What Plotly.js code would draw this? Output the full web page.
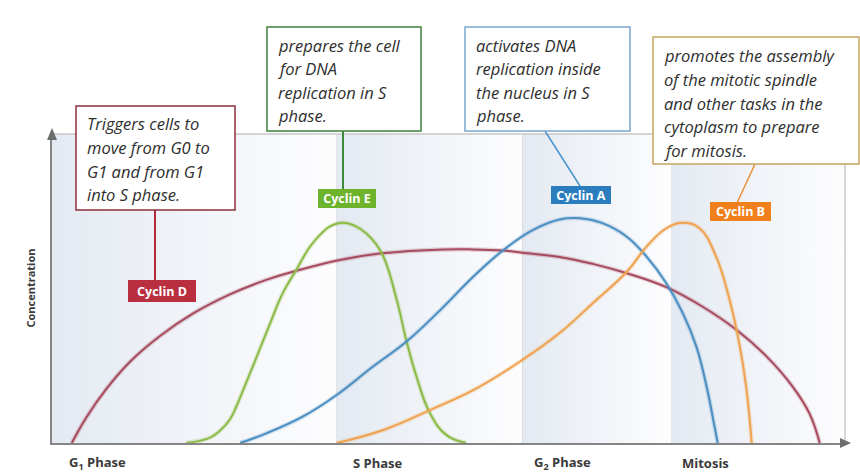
<!DOCTYPE html>
<html>
<head>
<meta charset="utf-8">
<script src="https://cdn.plot.ly/plotly-3.0.1.min.js"></script>
<style>html,body{margin:0;padding:0;background:#fff;}#chart{width:860px;height:473px;}</style>
</head>
<body>
<div id="chart"></div>
<script>
// ---- data (arbitrary time units 0..100, concentration 0..100) ----
const phaseBounds = [0, 36.0, 59.5, 78.3, 100.3];
const phaseLabels = ['G<sub>1</sub> Phase', 'S Phase', 'G<sub>2</sub> Phase', 'Mitosis'];
const phaseLabelX = [0.0574, 0.4105, 0.6438, 0.8247];

const cyclinDx = [2.5,4.4,6.9,9.9,13.7,17.8,22.5,27.1,30.9,36.4,41.7,49.5,53.3,57.1,59.5,64.2,68.4,72.7,77.7,82.3,86.6,90.4,93.7,95.8,97.1];
const cyclinDy = [0,8.7,18.0,27.0,35.5,42.8,49.2,54.0,57.0,60.6,62.8,64.1,64.1,63.7,63.0,61.6,59.3,56.2,51.6,45.1,37.4,28.6,18.6,9.8,0];

const cyclinEx = [17.0,20.0,21.2,22.5,23.3,24.1,25.9,27.6,29.2,30.9,32.6,33.9,35.1,36.8,38.3,39.8,41.7,43.6,44.8,46.1,47.8,49.9,52.4];
const cyclinEy = [0,1.8,4.0,7.8,12.0,17.0,28.6,39.7,49.7,57.3,64.9,68.9,71.6,72.9,71.9,69.3,62.9,47.4,34.1,22.0,9.9,2.6,0];

const cyclinAx = [23.8,27.1,31.7,36.0,40.6,44.8,49.1,53.3,57.1,60.8,64.2,66.8,69.7,72.7,75.2,77.7,79.8,81.5,82.8,83.8,84.2];
const cyclinAy = [0,3.2,8.7,15.9,25.3,33.5,44.0,55.1,63.9,70.5,74.0,74.4,72.7,68.3,61.7,52.9,42.9,31.9,18.6,5.4,0];

const cyclinBx = [36.0,41.9,47.8,53.7,59.5,64.2,68.4,72.7,75.2,77.7,79.8,81.9,84.0,85.7,87.0,87.8,88.5];
const cyclinBy = [0,4.3,10.9,18.1,27.5,36.4,46.3,56.7,65.0,71.1,72.9,71.1,61.7,47.4,31.9,18.6,0];

const cyclinNames = ['Cyclin D', 'Cyclin E', 'Cyclin A', 'Cyclin B'];
const cyclinRoles = [
  ['Triggers cells to', 'move from G0 to', 'G1 and from G1', 'into S phase.'],
  ['prepares the cell', 'for DNA', 'replication in S', 'phase.'],
  ['activates DNA', 'replication inside', 'the nucleus in S', 'phase.'],
  ['promotes the assembly', 'of the mitotic spindle', 'and other tasks in the', 'cytoplasm to prepare', 'for mitosis.']
];

// ---- styling / layout helpers ----
const YTOP = 102.3;
const W = 793, H = 309, L = 52, B = 443;
const px = v => (v - L) / W;       // pixel x -> paper
const py = v => (B - v) / H;       // pixel y -> paper

const lineColors = ['#a64a5e', '#8cbb48', '#4a8ec2', '#efa24f'];
const tagColors  = ['#b92f40', '#6db42c', '#2b7dbd', '#ef801b'];
const boxBorders = ['#8e2e3a', '#3e7e3e', '#7aa6cc', '#c6a463'];

const traces = [];
for (let i = 0; i < phaseBounds.length - 1; i++) {
  const a = phaseBounds[i], b = phaseBounds[i + 1];
  traces.push({
    x: [a, b, b, a, a], y: [0, 0, YTOP, YTOP, 0],
    mode: 'lines', line: {width: 0}, fill: 'toself',
    fillgradient: {type: 'horizontal', colorscale: [[0, '#e4eaf2'], [1, '#fdfdfe']]},
    hoverinfo: 'skip', showlegend: false
  });
}
const series = [[cyclinDx, cyclinDy], [cyclinEx, cyclinEy], [cyclinAx, cyclinAy], [cyclinBx, cyclinBy]];
series.forEach((s, i) => {
  traces.push({x: s[0], y: s[1], mode: 'lines', line: {color: lineColors[i], width: 4.5, shape: 'spline', smoothing: 1.2}, opacity: 0.25, hoverinfo: 'skip', showlegend: false});
  traces.push({x: s[0], y: s[1], mode: 'lines', name: cyclinNames[i], line: {color: lineColors[i], width: 2, shape: 'spline', smoothing: 1.2}, showlegend: false});
});

const shapes = [];
// phase dividers
for (let i = 1; i < phaseBounds.length - 1; i++) {
  shapes.push({type: 'line', xref: 'x', yref: 'paper', x0: phaseBounds[i], x1: phaseBounds[i], y0: 0, y1: 1, line: {color: '#a3a3a3', width: 1}, layer: 'below'});
}
// top & right border
shapes.push({type: 'line', xref: 'paper', yref: 'paper', x0: 0, x1: 1, y0: 1, y1: 1, line: {color: '#c9c9c9', width: 1.5}});
shapes.push({type: 'line', xref: 'paper', yref: 'paper', x0: 1, x1: 1, y0: 0, y1: 1, line: {color: '#c9c9c9', width: 1.5}});
// arrow heads
shapes.push({type: 'path', xref: 'paper', yref: 'paper', path: `M ${px(840)} ${py(438)} L ${px(851)} ${py(443)} L ${px(840)} ${py(448)} Z`, fillcolor: '#6d6d6d', line: {width: 0}});
shapes.push({type: 'path', xref: 'paper', yref: 'paper', path: `M ${px(47)} ${py(140)} L ${px(52)} ${py(128)} L ${px(57)} ${py(140)} Z`, fillcolor: '#6d6d6d', line: {width: 0}});
// connectors from description boxes to cyclin tags
const connectors = [[155,210,155,281,2],[343,131,343,190,2],[545,131,580,186,1.5],[755,164,737,203,1.5]];
const connColors = ['#b3283b', '#3f8a3a', '#4a93cc', '#e88f35'];
connectors.forEach((c, i) => {
  shapes.push({type: 'line', xref: 'paper', yref: 'paper', x0: px(c[0]), y0: py(c[1]), x1: px(c[2]), y1: py(c[3]), line: {color: connColors[i], width: c[4]}});
});
// description boxes [left, top, width, height] in pixels
const boxes = [[76,106,159,104],[267,27,154,104],[465,27,165,104],[653,37,206,127]];
boxes.forEach((b, i) => {
  shapes.push({type: 'rect', xref: 'paper', yref: 'paper', x0: px(b[0]), x1: px(b[0] + b[2]), y0: py(b[1]), y1: py(b[1] + b[3]),
    fillcolor: '#ffffff', line: {color: boxBorders[i], width: 1.5}});
});

const annotations = [];
boxes.forEach((b, i) => {
  const first = i === 3 ? 18.5 : 18, step = i === 3 ? 23.8 : 23.6;
  cyclinRoles[i].forEach((line, j) => {
    annotations.push({
      xref: 'paper', yref: 'paper', x: px(b[0] + 9), y: py(b[1] + first + j * step), xanchor: 'left', yanchor: 'middle',
      text: line, showarrow: false, align: 'left',
      font: {family: 'Open Sans, sans-serif', size: 16.5, style: 'italic', color: '#2e2e2e'}
    });
  });
});
// cyclin tags
const tags = [[162,291,68,22],[347,198,58,19],[581,195,60,18],[740,211,61,19]];
tags.forEach((t, i) => {
  annotations.push({
    xref: 'paper', yref: 'paper', x: px(t[0]), y: py(t[1]), xanchor: 'center', yanchor: 'middle',
    text: '<b>' + cyclinNames[i] + '</b>', showarrow: false,
    width: t[2] - 4, height: t[3] - 4, borderpad: 2,
    bgcolor: tagColors[i], bordercolor: tagColors[i], borderwidth: 0,
    font: {family: 'Open Sans, sans-serif', size: 12.5, color: '#ffffff'}
  });
});
// phase labels
phaseLabels.forEach((lab, i) => {
  annotations.push({
    xref: 'paper', yref: 'paper', x: phaseLabelX[i], y: py(463), xanchor: 'center', yanchor: 'middle',
    text: '<b>' + lab + '</b>', showarrow: false,
    font: {family: 'Open Sans, sans-serif', size: 13, color: '#3a3a3a'}
  });
});
// y title
annotations.push({
  xref: 'paper', yref: 'paper', x: px(30), y: 0.5, xanchor: 'center', yanchor: 'middle',
  text: '<b>Concentration</b>', textangle: -90, showarrow: false,
  font: {family: 'Open Sans, sans-serif', size: 11, color: '#3a3a3a'}
});

const layout = {
  width: 860, height: 473,
  margin: {l: 52, r: 15, t: 134, b: 30, pad: 0},
  paper_bgcolor: '#ffffff', plot_bgcolor: '#ffffff',
  showlegend: false,
  xaxis: {range: [0, 100.3], showgrid: false, zeroline: false, showticklabels: false, ticks: '',
          showline: true, linecolor: '#858585', linewidth: 2, fixedrange: true},
  yaxis: {range: [0, YTOP], showgrid: false, zeroline: false, showticklabels: false, ticks: '',
          showline: true, linecolor: '#858585', linewidth: 2, fixedrange: true},
  shapes: shapes,
  annotations: annotations
};

Plotly.newPlot('chart', traces, layout, {displayModeBar: false, staticPlot: true});
</script>
</body>
</html>
